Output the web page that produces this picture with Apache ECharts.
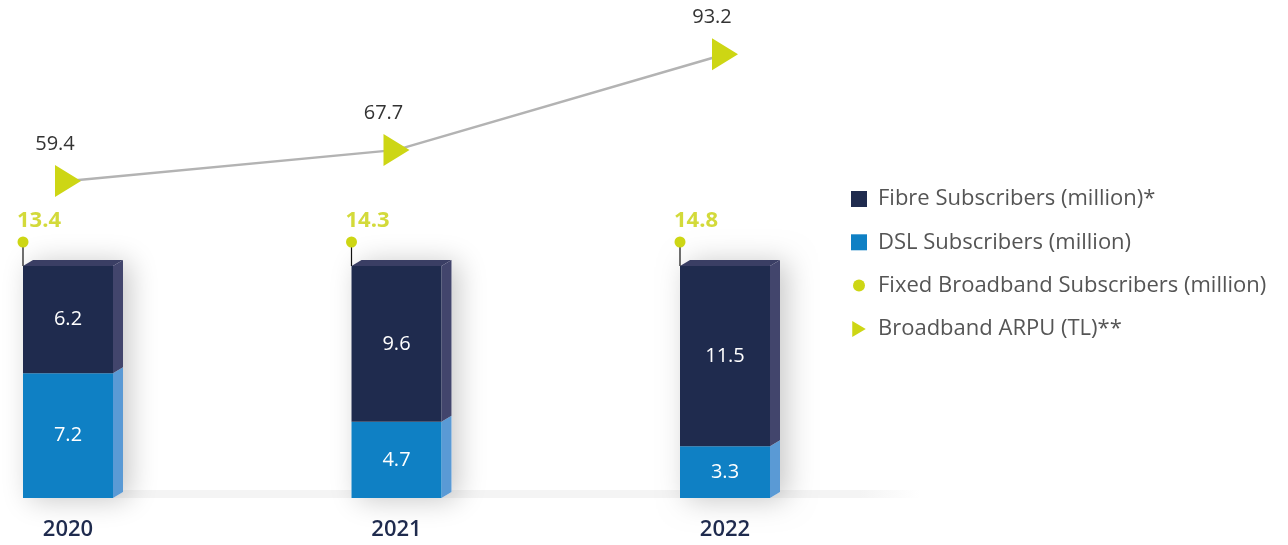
<!DOCTYPE html>
<html>
<head>
<meta charset="utf-8">
<script src="https://cdn.jsdelivr.net/npm/echarts@6/dist/echarts.min.js"></script>
<style>
  html, body { margin: 0; padding: 0; background: #ffffff; }
  #chart { width: 1288px; height: 545px; }
</style>
</head>
<body>
<div id="chart"></div>
<script>
// Subscriber mix (million) and broadband ARPU (TL) per year
const years = ['2020', '2021', '2022'];
const fibreSubs = [6.2, 9.6, 11.5];
const dslSubs = [7.2, 4.7, 3.3];
const fixedTotal = [13.4, 14.3, 14.8];
const arpu = [59.4, 67.7, 93.2];

const names = {
  fibre: 'Fibre Subscribers (million)*',
  dsl: 'DSL Subscribers (million)',
  fixed: 'Fixed Broadband Subscribers (million)',
  arpu: 'Broadband ARPU (TL)**'
};

const FONT = '"Open Sans", "Noto Sans", sans-serif';
const BAR_W = 90;      // front face width
const DEPTH_X = 10;    // 3D depth offset
const DEPTH_Y = 6;

const C = {
  fibreFront: '#1f2b4e', fibreSide: '#42456c', fibreTop: '#3a3e64',
  dslFront: '#0f80c4', dslSide: '#5a9ad5',
  lime: '#cdd614', limeText: '#d3da3a',
  floor: '#f4f4f4'
};

// Bars show each year's mix as shares of the whole
const dslShare = dslSubs.map((v, i) => v / (v + fibreSubs[i]));
const dslData = years.map((_, i) => [i, 0, dslShare[i], dslSubs[i]]);
const fibreData = years.map((_, i) => [i, dslShare[i], 1, fibreSubs[i]]);
const totalData = years.map((_, i) => [i, 1, fixedTotal[i]]);

function sidePoly(xR, yT, yB) {
  return [[xR, yT], [xR + DEPTH_X, yT - DEPTH_Y], [xR + DEPTH_X, yB - DEPTH_Y], [xR, yB]];
}

function segmentLabel(x, yT, yB, value) {
  return {
    type: 'text', x: x, y: (yT + yB) / 2,
    style: { text: String(value), fill: '#ffffff', fontSize: 20, fontFamily: FONT,
             align: 'center', verticalAlign: 'middle' }
  };
}

// Lower segment: floor strip, drop shadow of the whole block, DSL faces
function renderDsl(params, api) {
  const i = api.value(0);
  const base = api.coord([i, api.value(1)]);
  const top = api.coord([i, api.value(2)]);
  const full = api.coord([i, 1]);
  const step = api.size([1, 0])[0];
  const xL = base[0] - BAR_W / 2, xR = xL + BAR_W;
  const yB = base[1], yT = top[1], yF = full[1];
  const last = i === years.length - 1;
  const children = [
    {
      type: 'rect',
      shape: { x: xR, y: yB - 8, width: last ? 150 : step, height: 8 },
      style: {
        fill: last ? new echarts.graphic.LinearGradient(0, 0, 1, 0, [
          { offset: 0, color: C.floor }, { offset: 0.6, color: C.floor },
          { offset: 1, color: 'rgba(244,244,244,0)' }]) : C.floor
      }
    },
    {
      type: 'polygon',
      shape: { points: [[xL, yF], [xL + DEPTH_X, yF - DEPTH_Y], [xR + DEPTH_X, yF - DEPTH_Y],
                        [xR + DEPTH_X, yB - DEPTH_Y], [xR, yB], [xL, yB]] },
      style: { fill: '#ffffff', shadowBlur: 28, shadowColor: 'rgba(0,0,0,0.22)', shadowOffsetX: 7, shadowOffsetY: 2 }
    },
    { type: 'polygon', shape: { points: sidePoly(xR, yT, yB) }, style: { fill: C.dslSide } },
    { type: 'rect', shape: { x: xL, y: yT, width: BAR_W, height: yB - yT }, style: { fill: C.dslFront } },
    segmentLabel(base[0], yT, yB, api.value(3))
  ];
  return { type: 'group', children: children };
}

// Upper segment: fibre faces with the top lid
function renderFibre(params, api) {
  const i = api.value(0);
  const base = api.coord([i, api.value(1)]);
  const top = api.coord([i, api.value(2)]);
  const xL = base[0] - BAR_W / 2, xR = xL + BAR_W;
  const yB = base[1], yT = top[1];
  return {
    type: 'group',
    children: [
      { type: 'polygon', shape: { points: sidePoly(xR, yT, yB) }, style: { fill: C.fibreSide } },
      { type: 'rect', shape: { x: xL, y: yT, width: BAR_W, height: yB - yT }, style: { fill: C.fibreFront } },
      { type: 'polygon',
        shape: { points: [[xL, yT], [xL + DEPTH_X, yT - DEPTH_Y], [xR + DEPTH_X, yT - DEPTH_Y], [xR, yT]] },
        style: { fill: C.fibreTop } },
      segmentLabel(base[0], yT, yB, api.value(3))
    ]
  };
}

// Total subscribers: pin on the block's front corner with the value above
function renderTotal(params, api) {
  const i = api.value(0);
  const p = api.coord([i, api.value(1)]);
  const x = p[0] - BAR_W / 2, y = p[1];
  return {
    type: 'group',
    children: [
      { type: 'line', shape: { x1: x, y1: y, x2: x, y2: y - 24 }, style: { stroke: '#111111', lineWidth: 1.2 } },
      { type: 'circle', shape: { cx: x, cy: y - 24, r: 5.5 }, style: { fill: C.lime } },
      { type: 'text', x: x - 6, y: y - 45,
        style: { text: String(api.value(2)), fill: C.limeText, fontSize: 22, fontWeight: 'bold',
                 fontFamily: FONT, align: 'left', verticalAlign: 'middle' } }
    ]
  };
}

const chart = echarts.init(document.getElementById('chart'), null, { renderer: 'canvas' });

const catAxisBase = {
  type: 'category',
  data: years,
  boundaryGap: false,
  axisLine: { show: false },
  axisTick: { show: false },
  splitLine: { show: false }
};

chart.setOption({
  backgroundColor: '#ffffff',
  animation: false,
  grid: [
    { left: 68, right: 563, top: 266, bottom: 47, outerBoundsMode: 'none', containLabel: false },
    { left: 68, right: 563, top: 40, height: 150, outerBoundsMode: 'none', containLabel: false }
  ],
  xAxis: [
    Object.assign({}, catAxisBase, {
      gridIndex: 0,
      axisLabel: { show: true, margin: 21, fontSize: 22, fontWeight: 600, color: '#1f2b4e', fontFamily: FONT }
    }),
    Object.assign({}, catAxisBase, { gridIndex: 1, axisLabel: { show: false } })
  ],
  yAxis: [
    { type: 'value', gridIndex: 0, min: 0, max: 1, show: false },
    { type: 'value', gridIndex: 1, min: 57, max: 97, show: false }
  ],
  legend: {
    orient: 'vertical',
    left: 851,
    top: 188,
    padding: 0,
    itemWidth: 16,
    itemHeight: 16,
    itemGap: 21.3,
    selectedMode: false,
    textStyle: { fontSize: 22, color: '#555555', fontFamily: FONT, padding: [0, 0, 0, 6] },
    data: [
      { name: names.fibre, icon: 'rect' },
      { name: names.dsl, icon: 'rect' },
      { name: names.fixed, icon: 'path://M0,0M16,16M2,8a6,6 0 1,0 12,0a6,6 0 1,0 -12,0Z' },
      { name: names.arpu, icon: 'path://M0,0L16,9.5L0,19Z' }
    ]
  },
  series: [
    {
      name: names.dsl, type: 'custom', xAxisIndex: 0, yAxisIndex: 0,
      itemStyle: { color: C.dslFront },
      renderItem: renderDsl, data: dslData, clip: false, z: 2
    },
    {
      name: names.fibre, type: 'custom', xAxisIndex: 0, yAxisIndex: 0,
      itemStyle: { color: C.fibreFront },
      renderItem: renderFibre, data: fibreData, clip: false, z: 3
    },
    {
      name: names.fixed, type: 'custom', xAxisIndex: 0, yAxisIndex: 0,
      itemStyle: { color: C.lime },
      renderItem: renderTotal, data: totalData, clip: false, z: 4
    },
    {
      name: names.arpu, type: 'line', xAxisIndex: 1, yAxisIndex: 1,
      data: arpu,
      clip: false,
      symbol: 'triangle',
      symbolRotate: -90,
      symbolSize: [32, 26],
      showAllSymbol: true,
      itemStyle: { color: C.lime },
      lineStyle: { color: '#b3b3b3', width: 2.5 },
      label: {
        show: true, position: 'top', offset: [-13, -6],
        fontSize: 20, color: '#333333', fontFamily: FONT
      },
      z: 5
    }
  ]
});
</script>
</body>
</html>
